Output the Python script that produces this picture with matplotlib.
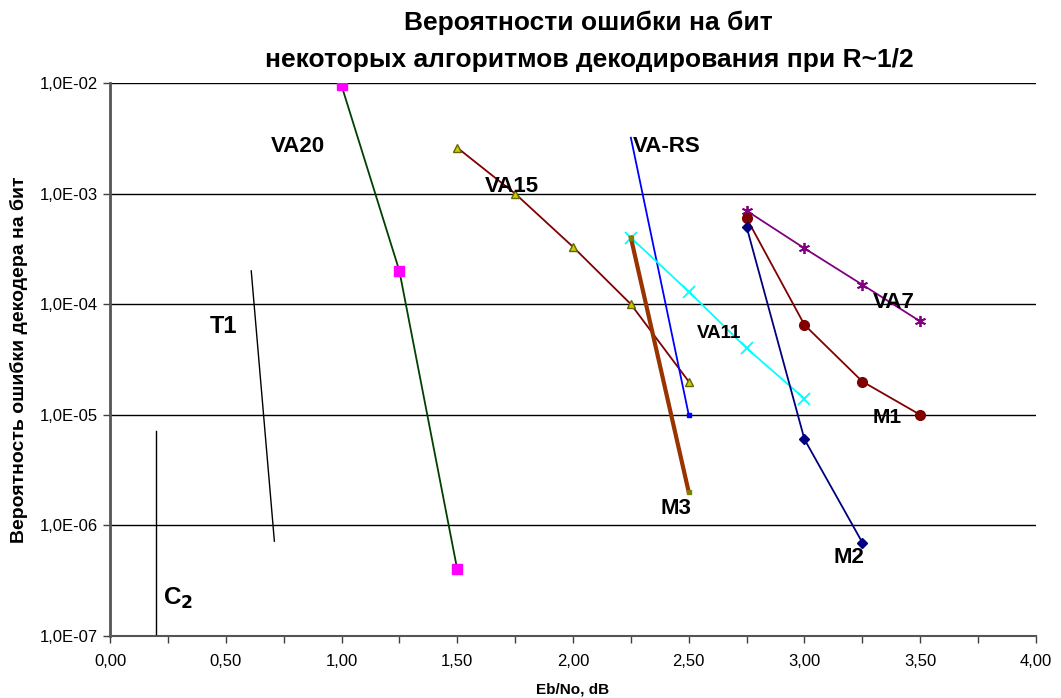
import matplotlib
matplotlib.use("Agg")
import matplotlib.pyplot as plt
from matplotlib.ticker import FixedLocator, MultipleLocator, FuncFormatter

plt.rcParams["font.family"] = ["Liberation Sans", "DejaVu Sans"]

# curves: Eb/No (dB) -> bit error probability
va20_x = [1.0, 1.25, 1.5]
va20_y = [9.5e-3, 2e-4, 4e-7]
va15_x = [1.5, 1.75, 2.0, 2.25, 2.5]
va15_y = [2.6e-3, 1e-3, 3.3e-4, 1e-4, 2e-5]
vars_x = [2.25, 2.5]
vars_y = [3.2e-3, 1e-5]
va11_x = [2.25, 2.5, 2.75, 3.0]
va11_y = [4e-4, 1.3e-4, 4e-5, 1.4e-5]
m3_x = [2.25, 2.5]
m3_y = [4e-4, 2e-6]
va7_x = [2.75, 3.0, 3.25, 3.5]
va7_y = [7e-4, 3.2e-4, 1.5e-4, 7e-5]
m1_x = [2.75, 3.0, 3.25, 3.5]
m1_y = [6e-4, 6.5e-5, 2e-5, 1e-5]
m2_x = [2.75, 3.0, 3.25]
m2_y = [5e-4, 6e-6, 7e-7]
t1_x = [0.61, 0.71]
t1_y = [2e-4, 7.2e-7]
c2_x = [0.2, 0.2]
c2_y = [7.2e-6, 1.05e-7]

fig = plt.figure(figsize=(10.61, 6.98), dpi=100)
ax = fig.add_axes([0.1037, 0.0888, 0.8727, 0.7923])
ax.set_yscale("log")
ax.set_xlim(0, 4)
ax.set_ylim(1e-7, 1e-2)

ax.plot(va20_x, va20_y, color="#004000", lw=1.3, marker="s", ms=7,
        mfc="#ff00ff", mec="#ff00ff", zorder=3)
ax.plot(va15_x, va15_y, color="#800000", lw=1.3, marker="^", ms=5.5,
        mfc="#cccc00", mec="#666600", mew=1, zorder=3)
ax.plot(vars_x, vars_y, color="#0000ff", lw=1.3, zorder=3)
ax.plot(vars_x[-1:], vars_y[-1:], color="#0000ff", marker="s", ms=3, ls="none", zorder=3)
ax.plot(va11_x, va11_y, color="#00ffff", lw=1.3, marker="x", ms=8, mew=1.3, zorder=3)
ax.plot(m3_x, m3_y, color="#993300", lw=3, marker="s", ms=3.5,
        mfc="#808000", mec="#808000", zorder=4)
ax.plot(va7_x, va7_y, color="#800080", lw=1.3, marker=(6, 2, 0), ms=8, mew=1.3, zorder=3)
ax.plot(m1_x, m1_y, color="#800000", lw=1.3, marker="o", ms=7,
        mfc="#800000", zorder=3)
ax.plot(m2_x, m2_y, color="#000080", lw=1.3, marker="D", ms=5.5,
        mfc="#000080", zorder=3)
ax.plot(t1_x, t1_y, color="black", lw=1, zorder=3)
ax.plot(c2_x, c2_y, color="black", lw=1, zorder=3)

lbl = dict(fontweight="bold", ha="center", va="baseline")
ax.text(0.812, 2.38e-3, "VA20", fontsize=16, **lbl)
ax.text(1.737, 1.03e-3, "VA15", fontsize=16, **lbl)
ax.text(2.406, 2.38e-3, "VA-RS", fontsize=16, **lbl)
ax.text(2.63, 4.94e-5, "VA11", fontsize=13.5, **lbl)
ax.text(3.387, 9.24e-5, "VA7", fontsize=16, **lbl)
ax.text(3.357, 8.4e-6, "M1", fontsize=15, **lbl)
ax.text(3.19, 4.57e-7, "M2", fontsize=16, **lbl)
ax.text(2.445, 1.27e-6, "M3", fontsize=16, **lbl)
ax.text(0.492, 5.5e-5, "T1", fontsize=17, **lbl)
ax.text(0.295, 1.9e-7, "C$_\\mathbf{2}$", fontsize=17.5, **lbl)

ax.yaxis.set_major_locator(FixedLocator([1e-7, 1e-6, 1e-5, 1e-4, 1e-3, 1e-2]))
ax.yaxis.set_minor_locator(FixedLocator([]))
ax.yaxis.set_major_formatter(FuncFormatter(lambda v, p: ("%.1E" % v).replace(".", ",")))
ax.xaxis.set_major_locator(MultipleLocator(0.5))
ax.xaxis.set_minor_locator(MultipleLocator(0.25))
ax.xaxis.set_major_formatter(FuncFormatter(lambda v, p: ("%.2f" % v).replace(".", ",")))
ax.tick_params(axis="both", which="both", labelsize=12, direction="out",
               length=5, width=1, color="#404040")
ax.tick_params(axis="x", pad=8)

ax.grid(axis="y", which="major", color="black", lw=1)
ax.set_axisbelow(True)
for s in ("top", "right"):
    ax.spines[s].set_visible(False)
ax.spines["left"].set_color("#555555")
ax.spines["left"].set_linewidth(2)
ax.spines["bottom"].set_color("#555555")
ax.spines["bottom"].set_linewidth(1.5)

ax.set_xlabel("Eb/No, dB", fontsize=11, fontweight="bold", labelpad=10)
ax.set_ylabel("Вероятность ошибки декодера на бит", fontsize=14, fontweight="bold")
ax.yaxis.set_label_coords(-0.0886, 0.5)
fig.text(0.555, 0.968, "Вероятности ошибки на бит", fontsize=19,
         fontweight="bold", ha="center", va="center")
fig.text(0.555, 0.914, "некоторых алгоритмов декодирования при R~1/2", fontsize=19,
         fontweight="bold", ha="center", va="center")

plt.savefig("out.png", dpi=100)
